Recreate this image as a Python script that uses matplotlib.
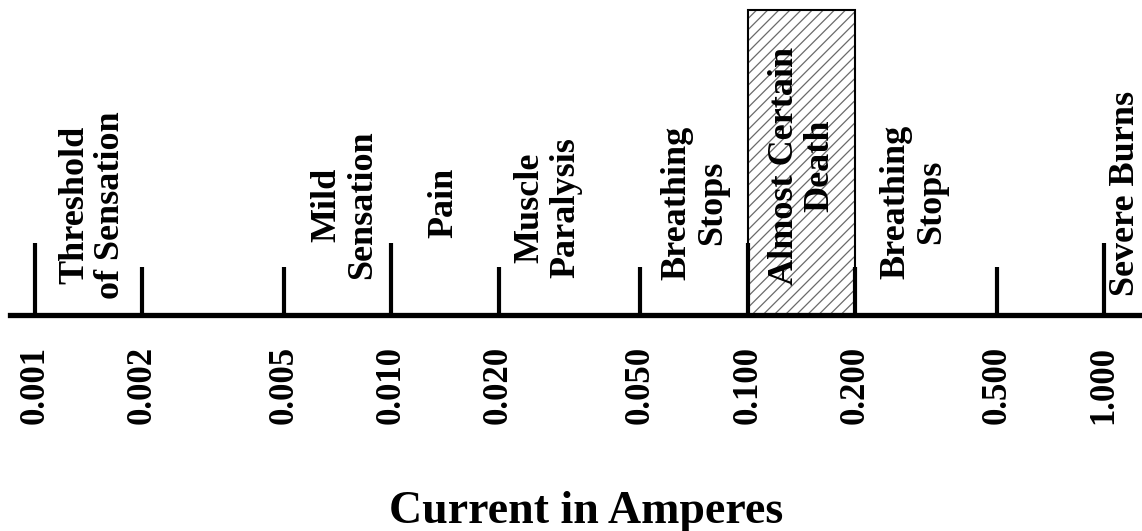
import matplotlib
matplotlib.use('Agg')
import matplotlib.pyplot as plt
from matplotlib.patches import Rectangle
from matplotlib.ticker import NullLocator

# ---- data ----
tick_values = [0.001, 0.002, 0.005, 0.010, 0.020, 0.050, 0.100, 0.200, 0.500, 1.000]
tick_labels = ['0.001', '0.002', '0.005', '0.010', '0.020', '0.050', '0.100', '0.200', '0.500', '1.000']
tick_major = [True, False, False, True, False, False, True, False, False, True]

effect_labels = ['Threshold\nof Sensation', 'Mild\nSensation', 'Pain', 'Muscle\nParalysis',
                 'Breathing\nStops', 'Almost Certain\nDeath', 'Breathing\nStops', 'Severe Burns']
effect_x = [0.00145, 0.0074, 0.014, 0.0275, 0.071, 0.142, 0.292, 1.15]
effect_y = [110, 110, 112, 107, 112, 149, 113, 122]

death_range = (0.100, 0.200)
xlabel = 'Current in Amperes'

# ---- styling ----
FONT = 'Liberation Serif'
W, H = 1142, 531
axis_y_px = 315
tall_h, short_h = 72, 48
box_h = 305

plt.rcParams['hatch.linewidth'] = 0.9

fig = plt.figure(figsize=(W / 100, H / 100), dpi=100)
ax = fig.add_axes([10 / W, (H - axis_y_px) / H, 1 - 10 / W, axis_y_px / H])
ax.set_xscale('log')
ax.set_xlim(0.0008508, 1.2786)
ax.set_ylim(0, axis_y_px)

for s in ['top', 'left', 'right']:
    ax.spines[s].set_visible(False)
ax.spines['bottom'].set_linewidth(3.8)
ax.spines['bottom'].set_zorder(5)
ax.set_yticks([])

# hatched death region
x0, x1 = death_range
ax.add_patch(Rectangle((x0, 0), x1 - x0, box_h, facecolor='white', edgecolor='#6a6a6a',
                       hatch='///', linewidth=0, zorder=1))
ax.add_patch(Rectangle((x0, 0), x1 - x0, box_h, facecolor='none', edgecolor='black',
                       linewidth=1.5, zorder=2))

# tick marks
heights = [tall_h if m else short_h for m in tick_major]
ax.vlines(tick_values, 0, heights, colors='black', linewidth=3.0, zorder=4)

ax.xaxis.set_minor_locator(NullLocator())
ax.set_xticks(tick_values)
ax.set_xticklabels(tick_labels, rotation=90, fontsize=25, fontweight='bold', family=FONT)
ax.tick_params(axis='x', length=0, pad=22)

for txt, x, y in zip(effect_labels, effect_x, effect_y):
    ax.text(x, y, txt, rotation=90, ha='center', va='center', multialignment='center',
            fontsize=26, fontweight='bold', family=FONT, zorder=6, linespacing=1.1)

fig.text(586 / W, (H - 523) / H, xlabel, ha='center', va='baseline',
         fontsize=33, fontweight='bold', family=FONT)

fig.savefig('out.png', dpi=100, facecolor='white')
